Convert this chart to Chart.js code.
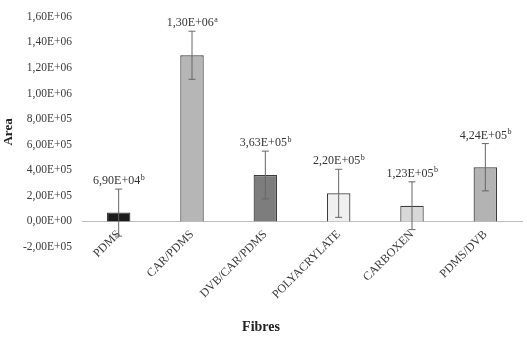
<!DOCTYPE html>
<html>
<head>
<meta charset="utf-8">
<script src="https://cdn.jsdelivr.net/npm/chart.js@4/dist/chart.umd.min.js"></script>
<style>
  body { margin: 0; background: #fff; }
  canvas { display: block; }
</style>
</head>
<body>
<canvas id="fibreChart" width="527" height="338"></canvas>
<script>
// Data
const fibres = ['PDMS', 'CAR/PDMS', 'DVB/CAR/PDMS', 'POLYACRYLATE', 'CARBOXEN', 'PDMS/DVB'];
const areaValues = [69000, 1300000, 363000, 220000, 123000, 424000];
const errorValues = [184000, 188000, 187000, 188000, 187000, 185000];
const letters = ['b', 'a', 'b', 'b', 'b', 'b'];
const yTicks = { min: -200000, max: 1600000, step: 200000 };

const barColours = ['#1c1c1c', '#b6b6b6', '#7d7d7d', '#f0f0f0', '#d8d8d8', '#b3b3b3'];
const serif = '"Liberation Serif", "Times New Roman", serif';

// 1300000 -> "1,30E+06"
function sci(v) {
  const parts = v.toExponential(2).split('e');
  const e = parseInt(parts[1], 10);
  return parts[0].replace('.', ',') + 'E' + (e < 0 ? '-' : '+') + String(Math.abs(e)).padStart(2, '0');
}

// error bars + value labels, placed through the chart's scales
const errorBars = {
  id: 'errorBars',
  afterDatasetsDraw(chart) {
    const ctx = chart.ctx;
    const x = chart.scales.x;
    const y = chart.scales.y;
    ctx.save();
    areaValues.forEach((v, i) => {
      const cx = x.getPixelForValue(i);
      const top = y.getPixelForValue(v + errorValues[i]);
      const bot = y.getPixelForValue(v - errorValues[i]);
      ctx.strokeStyle = '#666';
      ctx.lineWidth = 1;
      ctx.beginPath();
      ctx.moveTo(cx, top); ctx.lineTo(cx, bot);
      ctx.moveTo(cx - 3.5, top); ctx.lineTo(cx + 3.5, top);
      ctx.moveTo(cx - 3.5, bot); ctx.lineTo(cx + 3.5, bot);
      ctx.stroke();

      const main = sci(v);
      ctx.font = '12px ' + serif;
      const w1 = ctx.measureText(main).width;
      ctx.font = '8px ' + serif;
      const w2 = ctx.measureText(letters[i]).width;
      const left = cx - (w1 + w2) / 2;
      const base = top - 5;
      ctx.fillStyle = '#333';
      ctx.textAlign = 'left';
      ctx.textBaseline = 'alphabetic';
      ctx.font = '12px ' + serif;
      ctx.fillText(main, left, base);
      ctx.font = '8px ' + serif;
      ctx.fillText(letters[i], left + w1 + 0.5, base - 4.5);
    });
    ctx.restore();
  }
};

new Chart(document.getElementById('fibreChart'), {
  type: 'bar',
  data: {
    labels: fibres,
    datasets: [{
      data: areaValues,
      backgroundColor: barColours,
      borderColor: '#3c3c3c',
      borderWidth: 1.2,
      barPercentage: 1,
      categoryPercentage: 0.32
    }]
  },
  options: {
    responsive: false,
    animation: false,
    layout: { padding: { top: 11, right: 5, bottom: 1.4, left: 0 } },
    plugins: {
      legend: { display: false },
      tooltip: { enabled: false },
      // the axis sits on the zero line, so the title's top padding keeps room for the rotated labels
      title: {
        display: true,
        text: 'Fibres',
        position: 'bottom',
        color: '#222',
        font: { family: serif, size: 14, weight: 'bold' },
        padding: { top: 71.8, bottom: 1 }
      }
    },
    scales: {
      x: {
        position: { y: 0 },
        grid: { display: false, drawTicks: false },
        border: { display: true, color: '#bdbdbd', width: 1 },
        ticks: {
          color: '#3a3a3a',
          font: { family: serif, size: 12 },
          minRotation: 45,
          maxRotation: 45,
          padding: 6,
          autoSkip: false
        }
      },
      y: {
        min: yTicks.min,
        max: yTicks.max,
        grid: { display: false, drawTicks: false },
        border: { display: false },
        ticks: {
          stepSize: yTicks.step,
          color: '#3a3a3a',
          font: { family: serif, size: 11.5 },
          padding: 10,
          callback: v => sci(v)
        },
        title: {
          display: true,
          text: 'Area',
          color: '#222',
          font: { family: serif, size: 13, weight: 'bold' },
          padding: { top: 1, bottom: 0 }
        },
        afterFit(scale) { scale.width = 82; }
      }
    }
  },
  plugins: [errorBars]
});
</script>
</body>
</html>
